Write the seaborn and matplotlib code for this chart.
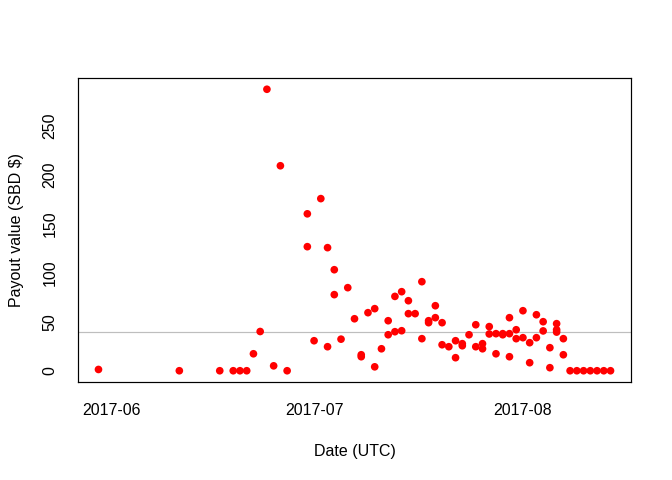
import matplotlib
matplotlib.use("Agg")
import matplotlib.pyplot as plt
import matplotlib.dates as mdates
import seaborn as sns
import pandas as pd

# Data
dates = [
    "2017-05-30", "2017-06-11", "2017-06-17", "2017-06-19", "2017-06-20", "2017-06-21",
    "2017-06-22", "2017-06-23", "2017-06-24", "2017-06-25", "2017-06-26", "2017-06-27",
    "2017-06-30", "2017-06-30", "2017-07-01", "2017-07-02", "2017-07-03", "2017-07-03",
    "2017-07-04", "2017-07-04", "2017-07-05", "2017-07-06", "2017-07-07", "2017-07-08",
    "2017-07-08", "2017-07-09", "2017-07-10", "2017-07-10", "2017-07-11", "2017-07-12",
    "2017-07-12", "2017-07-13", "2017-07-13", "2017-07-14", "2017-07-14", "2017-07-15",
    "2017-07-15", "2017-07-16", "2017-07-17", "2017-07-17", "2017-07-18", "2017-07-18",
    "2017-07-19", "2017-07-19", "2017-07-20", "2017-07-20", "2017-07-21", "2017-07-22",
    "2017-07-22", "2017-07-23", "2017-07-23", "2017-07-24", "2017-07-25", "2017-07-25",
    "2017-07-26", "2017-07-26", "2017-07-27", "2017-07-27", "2017-07-28", "2017-07-28",
    "2017-07-29", "2017-07-29", "2017-07-30", "2017-07-30", "2017-07-30", "2017-07-31",
    "2017-07-31", "2017-08-01", "2017-08-01", "2017-08-02", "2017-08-02", "2017-08-03",
    "2017-08-03", "2017-08-04", "2017-08-04", "2017-08-05", "2017-08-05", "2017-08-06",
    "2017-08-06", "2017-08-06", "2017-08-07", "2017-08-07", "2017-08-08", "2017-08-09",
    "2017-08-10", "2017-08-11", "2017-08-12", "2017-08-13", "2017-08-14",
]
payouts = [
    1.3, 0, 0, 0, 0, 0,
    17.3, 40, 287, 5, 209, 0,
    160, 126.5, 30.6, 175.5, 125.5, 24.5,
    103, 77.6, 32.2, 84.7, 53, 16.3,
    14.3, 59.2, 63.3, 4, 22.4, 51,
    36.7, 75.8, 39.8, 80.6, 40.8, 71.4,
    58.2, 58.2, 90.8, 32.7, 51, 49,
    66.3, 54.1, 49, 26.5, 24.5, 30.6,
    13.3, 27.6, 25.5, 36.7, 46.9, 24.5,
    27.6, 22.4, 45, 37.5, 37.8, 17.3,
    37.8, 36.7, 54.1, 37.8, 14.3, 41.8,
    32.7, 61.2, 33.7, 28.6, 8.2, 57.1,
    33.7, 50, 40.6, 23.5, 3.1, 48,
    41.8, 39.4, 32.7, 16.3, 0, 0,
    0, 0, 0, 0, 0,
]
reference_level = 40
x_ticks = ["2017-06-01", "2017-07-01", "2017-08-01"]
y_ticks = [0, 50, 100, 150, 200, 250]

df = pd.DataFrame({"date": pd.to_datetime(dates), "payout": payouts})

sns.set_theme(style="white")
plt.rcParams["font.family"] = ["Liberation Sans", "DejaVu Sans"]
plt.rcParams["font.size"] = 12

fig = plt.figure(figsize=(7, 5), dpi=96)
ax = fig.add_axes([78 / 672, 1 - 382 / 480, (631 - 78) / 672, (382 - 78) / 480])

sns.scatterplot(data=df, x="date", y="payout", ax=ax, color="red",
                s=33, linewidth=0, edgecolor="none", zorder=3)
ax.axhline(reference_level, color="#BEBEBE", linewidth=0.9, zorder=2)

ax.margins(x=0.04, y=0.04)
ax.set_xticks(pd.to_datetime(x_ticks))
ax.xaxis.set_major_formatter(mdates.DateFormatter("%Y-%m"))
ax.set_yticks(y_ticks)
for lab in ax.get_yticklabels():
    lab.set_rotation(90)
    lab.set_va("center")

for sp in ax.spines.values():
    sp.set_visible(True)
    sp.set_color("black")
    sp.set_linewidth(0.9)

ax.tick_params(axis="both", direction="out", length=7, width=0.9, color="black",
               labelsize=12, labelcolor="black")
ax.tick_params(axis="x", pad=9)
ax.tick_params(axis="y", pad=8.5)
ax.set_xlabel("Date (UTC)", fontsize=12, color="black", labelpad=19.5)
ax.set_ylabel("Payout value (SBD $)", fontsize=12, color="black", labelpad=14)
ax.grid(False)

fig.savefig("out.png", dpi=96, facecolor="white")
